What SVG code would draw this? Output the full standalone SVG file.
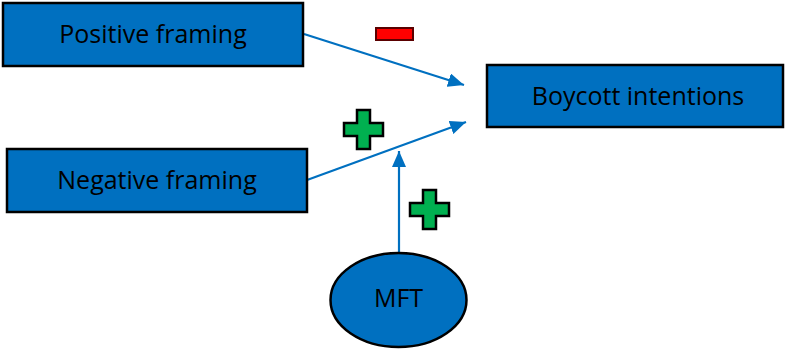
<svg xmlns="http://www.w3.org/2000/svg" width="787" height="350" viewBox="0 0 787 350">
<style>
.box{fill:#0070C0;stroke:#000;stroke-width:2.5}
.lbl{font-family:"Open Sans","Liberation Sans",sans-serif;font-size:25px;fill:#000;text-anchor:middle;dominant-baseline:central}
.con{stroke:#0070C0;stroke-width:2.2;fill:none}
.plus{fill:#00B050;stroke:#000;stroke-width:2.5}
.minus{fill:#FF0000;stroke:#5a0000;stroke-width:2}
</style>
<defs>
<marker id="ah" viewBox="0 0 16 14" refX="16" refY="7" markerWidth="16" markerHeight="14" markerUnits="userSpaceOnUse" orient="auto">
<path d="M0,0 L16,7 L0,14 z" fill="#0070C0"/>
</marker>
</defs>
<rect width="787" height="350" fill="#fff"/>
<g id="connectors">
<line class="con" x1="304" y1="34" x2="464" y2="85" marker-end="url(#ah)"/>
<line class="con" x1="307" y1="180" x2="466" y2="122" marker-end="url(#ah)"/>
<line class="con" x1="399" y1="253" x2="399" y2="151" marker-end="url(#ah)"/>
</g>
<g id="positive">
<rect class="box" x="3" y="3" width="300" height="63"/>
<text class="lbl" x="153" y="33">Positive framing</text>
</g>
<g id="negative">
<rect class="box" x="7" y="149" width="300" height="63"/>
<text class="lbl" x="157" y="179">Negative framing</text>
</g>
<g id="boycott">
<rect class="box" x="487" y="65" width="296" height="62"/>
<text class="lbl" x="638" y="95">Boycott intentions</text>
</g>
<g id="mft">
<ellipse class="box" cx="398.5" cy="300" rx="68" ry="47"/>
<text class="lbl" x="398.5" y="297">MFT</text>
</g>
<g id="signs">
<rect class="minus" x="376" y="28" width="37" height="12"/>
<path class="plus" d="M357,110 h13 v13 h13 v13 h-13 v13 h-13 v-13 h-13 v-13 h13 z"/>
<path class="plus" d="M423,190 h13 v13 h13 v13 h-13 v13 h-13 v-13 h-13 v-13 h13 z"/>
</g>
</svg>
